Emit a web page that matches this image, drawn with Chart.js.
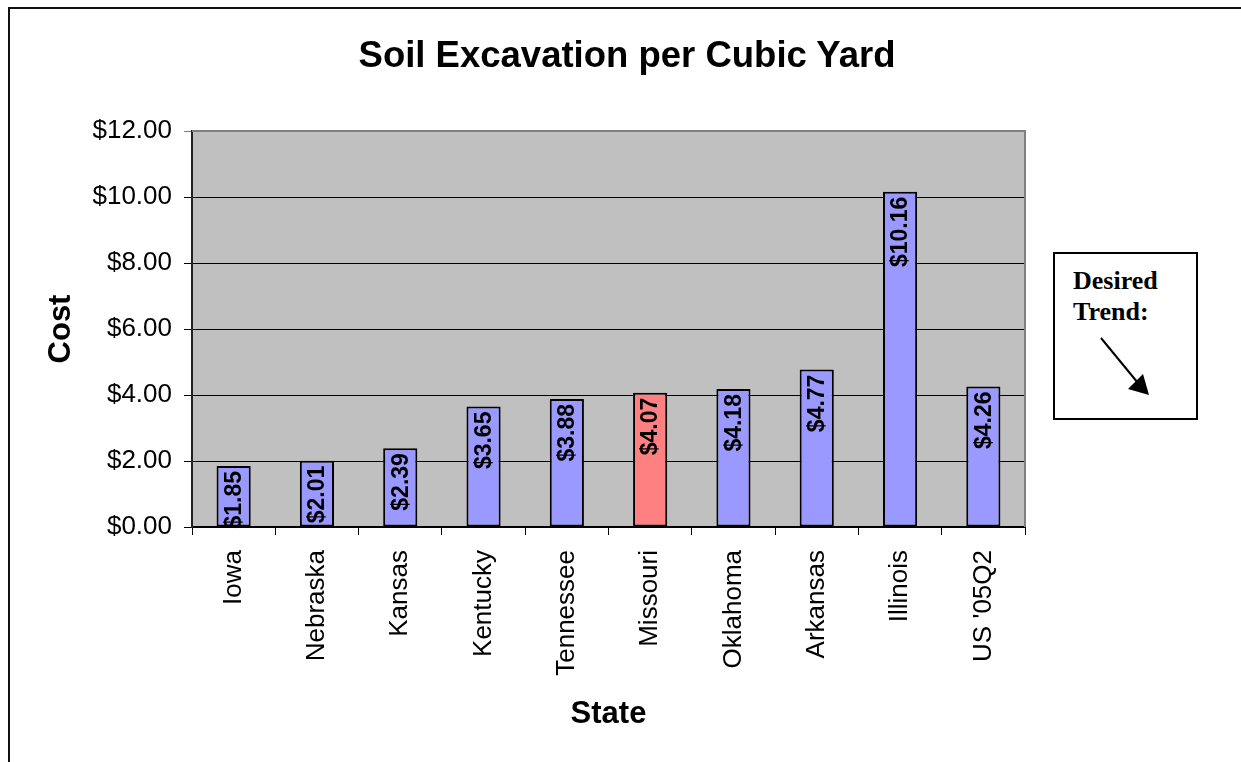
<!DOCTYPE html>
<html>
<head>
<meta charset="utf-8">
<script src="https://cdn.jsdelivr.net/npm/chart.js@4.4.1/dist/chart.umd.min.js"></script>
<style>
  html, body { margin: 0; padding: 0; background: #fff; overflow: hidden; }
  body { width: 1241px; height: 762px; position: relative; }
  #frame {
    position: absolute; left: 8px; top: 7px; width: 1300px; height: 900px;
    border-left: 2px solid #111; border-top: 2px solid #111;
  }
  #chart { position: absolute; left: 0; top: 0; }
  #title {
    position: absolute; left: 627px; top: 37px; transform: translateX(-50%);
    font: bold 36.5px "Liberation Sans", Arial, sans-serif; line-height: 36px;
    white-space: nowrap; color: #000;
  }
  #trend {
    position: absolute; left: 1053px; top: 252px; width: 145px; height: 168px;
    box-sizing: border-box; border: 2px solid #000; background: #fff;
    font: bold 26px "Liberation Serif", "Times New Roman", serif; line-height: 31px;
    padding: 11px 0 0 18px; color: #000;
  }
  #arrow { position: absolute; left: 0; top: 0; }
</style>
</head>
<body>
<div id="frame"></div>
<canvas id="chart" width="1241" height="762"></canvas>
<div id="title">Soil Excavation per Cubic Yard</div>
<div id="trend">Desired<br>Trend:</div>
<svg id="arrow" width="1241" height="762">
  <line x1="1101" y1="338" x2="1138" y2="383" stroke="#000" stroke-width="2"/>
  <polygon points="1149,395 1128,389 1143,374" fill="#000"/>
</svg>
<script>
const states = ["Iowa", "Nebraska", "Kansas", "Kentucky", "Tennessee", "Missouri", "Oklahoma", "Arkansas", "Illinois", "US '05Q2"];
const costs = [1.85, 2.01, 2.39, 3.65, 3.88, 4.07, 4.18, 4.77, 10.16, 4.26];
const yTicks = [0, 2, 4, 6, 8, 10, 12];
const highlight = "Missouri";

const money = (v) => "$" + Number(v).toFixed(2);
const sans = '"Liberation Sans", Arial, sans-serif';

Chart.defaults.font.family = sans;
Chart.defaults.color = "#000";

// gray plot background + gray top/right border
const plotFrame = {
  id: "plotFrame",
  beforeDraw(chart) {
    const { ctx, chartArea: a } = chart;
    ctx.save();
    ctx.fillStyle = "#c0c0c0";
    ctx.fillRect(a.left, a.top, a.right - a.left, a.bottom - a.top);
    ctx.restore();
  },
  beforeDatasetsDraw(chart) {
    const { ctx, chartArea: a } = chart;
    ctx.save();
    ctx.strokeStyle = "#808080";
    ctx.lineWidth = 2;
    ctx.beginPath();
    ctx.moveTo(a.left, a.top);
    ctx.lineTo(a.right, a.top);
    ctx.lineTo(a.right, a.bottom);
    ctx.stroke();
    ctx.restore();
  },
};

// rotated value labels hanging from the top of each bar
const barLabels = {
  id: "barLabels",
  afterDatasetsDraw(chart) {
    const { ctx } = chart;
    const meta = chart.getDatasetMeta(0);
    ctx.save();
    ctx.font = "bold 23px " + sans;
    ctx.fillStyle = "#000";
    ctx.textAlign = "right";
    ctx.textBaseline = "middle";
    meta.data.forEach((bar, i) => {
      ctx.save();
      ctx.translate(bar.x, bar.y + 5);
      ctx.rotate(-Math.PI / 2);
      ctx.fillText(money(costs[i]), 0, 1);
      ctx.restore();
    });
    ctx.restore();
  },
};

new Chart(document.getElementById("chart"), {
  type: "bar",
  data: {
    labels: states,
    datasets: [{
      data: costs,
      backgroundColor: states.map((s) => (s === highlight ? "#ff8080" : "#9999ff")),
      borderColor: "#000",
      borderWidth: 2,
      borderSkipped: false,
      barPercentage: 0.41,
      categoryPercentage: 1,
    }],
  },
  options: {
    responsive: false,
    devicePixelRatio: 1,
    animation: false,
    layout: { padding: { left: 0, top: 131, right: 216, bottom: 0 } },
    plugins: {
      legend: { display: false },
      title: { display: false },
      tooltip: { enabled: false },
    },
    scales: {
      x: {
        afterFit: (s) => { s.height = 235; },
        grid: { display: true, drawOnChartArea: false, drawTicks: true, tickLength: 8, color: "#000", offset: true },
        border: { display: true, color: "#000", width: 2 },
        ticks: {
          autoSkip: false, minRotation: 90, maxRotation: 90, padding: 15,
          font: { size: 26 }, color: "#000",
        },
        title: {
          display: true, text: "State", color: "#000",
          font: { size: 31, weight: "bold" }, padding: { top: 0, bottom: 29 },
        },
      },
      y: {
        min: 0,
        max: 12,
        afterFit: (s) => { s.width = 192; },
        afterBuildTicks: (s) => { s.ticks = yTicks.map((v) => ({ value: v })); },
        grid: {
          color: (c) => (c.tick && c.tick.value === 12 ? "#808080" : "#000"),
          lineWidth: 1, drawTicks: true, tickLength: 8,
        },
        border: { display: true, color: "#222", width: 2 },
        ticks: {
          padding: 12, font: { size: 26 }, color: "#000",
          callback: (v) => money(v),
        },
        title: {
          display: true, text: "Cost", color: "#000",
          font: { size: 31, weight: "bold" }, padding: { top: 43, bottom: 0 },
        },
      },
    },
  },
  plugins: [plotFrame, barLabels],
});
</script>
</body>
</html>
